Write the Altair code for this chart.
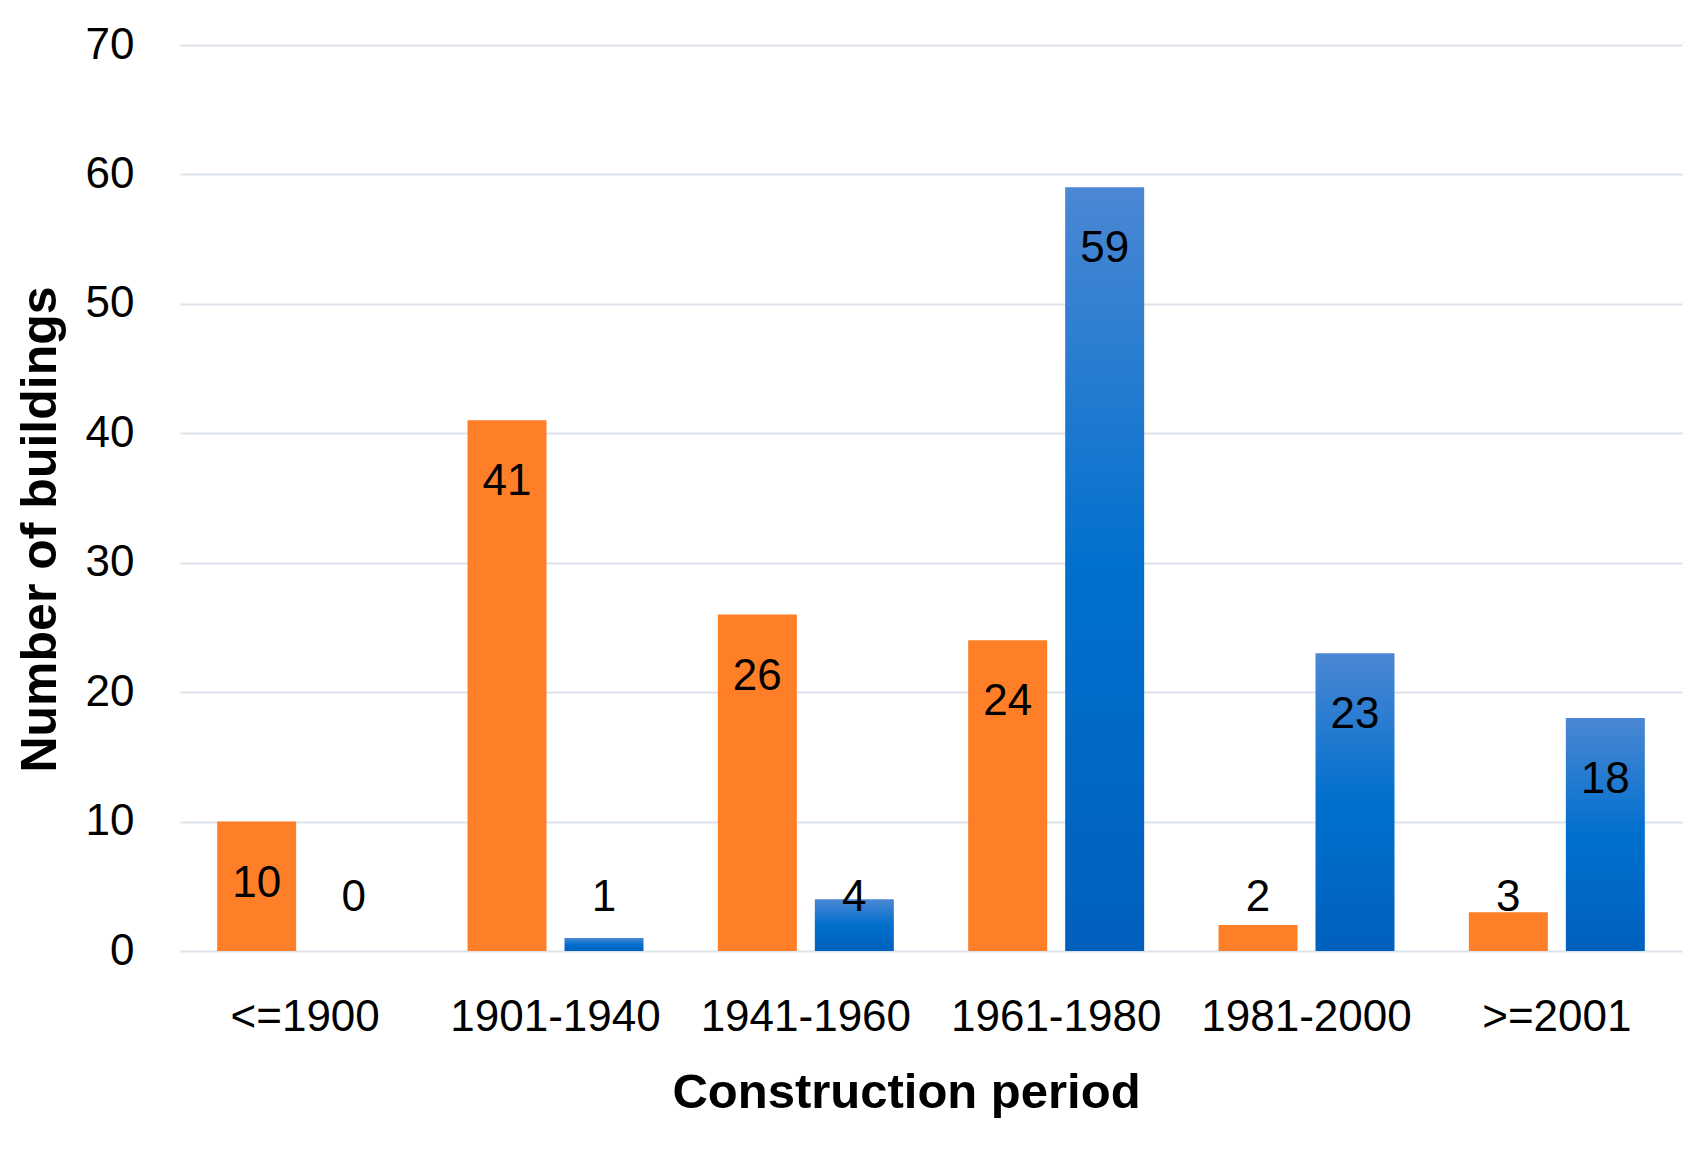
import altair as alt
import pandas as pd

periods = ["<=1900", "1901-1940", "1941-1960", "1961-1980", "1981-2000", ">=2001"]
series_names = ["Series 1", "Series 2"]
series1 = [10, 41, 26, 24, 2, 3]
series2 = [0, 1, 4, 59, 23, 18]
y_ticks = [0, 10, 20, 30, 40, 50, 60, 70]

rows = []
for p, a, b in zip(periods, series1, series2):
    rows.append({"period": p, "series": series_names[0], "value": a})
    rows.append({"period": p, "series": series_names[1], "value": b})
df = pd.DataFrame(rows)

FONT = "Liberation Sans"

x_enc = alt.X(
    "period:N",
    sort=periods,
    scale=alt.Scale(paddingInner=0.297, paddingOuter=0.1485),
    axis=alt.Axis(
        title="Construction period",
        labelAngle=0,
        labelPadding=44,
        labelFontSize=44,
        labelFont=FONT,
        labelColor="#000000",
        labelLimit=0,
        domain=False,
        ticks=False,
        titleFont=FONT,
        titleFontSize=49,
        titleFontWeight="bold",
        titleX=726,
        titleY=156,
        titleBaseline="alphabetic",
        titleAlign="center",
        titleColor="#000000",
    ),
)
xo_enc = alt.XOffset(
    "series:N",
    sort=series_names,
    scale=alt.Scale(domain=series_names, paddingInner=0.1856, paddingOuter=0),
)
y_scale = alt.Scale(domain=[0, 70], nice=False)
y_axis = alt.Axis(
    title="Number of buildings",
    values=y_ticks,
    grid=True,
    gridColor="#DCE3EB",
    gridWidth=2,
    domain=False,
    ticks=False,
    labelFont=FONT,
    labelFontSize=44,
    labelPadding=46,
    labelColor="#000000",
    titleFont=FONT,
    titleFontSize=50,
    titleFontWeight="bold",
    titleAngle=270,
    titleX=-125,
    titleY=484,
    titleBaseline="alphabetic",
    titleAlign="center",
    titleColor="#000000",
)

base = alt.Chart(df)

orange = base.transform_filter(alt.datum.series == series_names[0]).mark_bar(
    color="#FE7F27"
).encode(
    x=x_enc,
    xOffset=xo_enc,
    y=alt.Y("value:Q", scale=y_scale, axis=y_axis),
)

blue_grad = alt.Gradient(
    gradient="linear",
    stops=[
        alt.GradientStop(offset=0, color="#4B87D4"),
        alt.GradientStop(offset=0.5, color="#0070CD"),
        alt.GradientStop(offset=1, color="#0060BD"),
    ],
    x1=0, x2=0, y1=0, y2=1,
)
blue = base.transform_filter(alt.datum.series == series_names[1]).mark_bar(
    color=blue_grad
).encode(
    x=x_enc,
    xOffset=xo_enc,
    y=alt.Y("value:Q", scale=y_scale, axis=y_axis),
)

labels = base.transform_calculate(
    label_y="max(datum.value - 4.8, 4.1)"
).mark_text(
    font=FONT, fontSize=44, color="#000000", baseline="middle", align="center"
).encode(
    x=x_enc,
    xOffset=xo_enc,
    y=alt.Y("label_y:Q", scale=y_scale, axis=y_axis),
    text=alt.Text("value:Q"),
)

chart = alt.layer(orange, blue, labels).properties(
    width=1502,
    height=906,
    autosize=alt.AutoSizeParams(type="none"),
    padding={"left": 172, "top": 37, "right": 16, "bottom": 190},
    background="white",
).configure_view(stroke=None)

chart.save("out.html", embed_options={"renderer": "svg", "actions": False})
